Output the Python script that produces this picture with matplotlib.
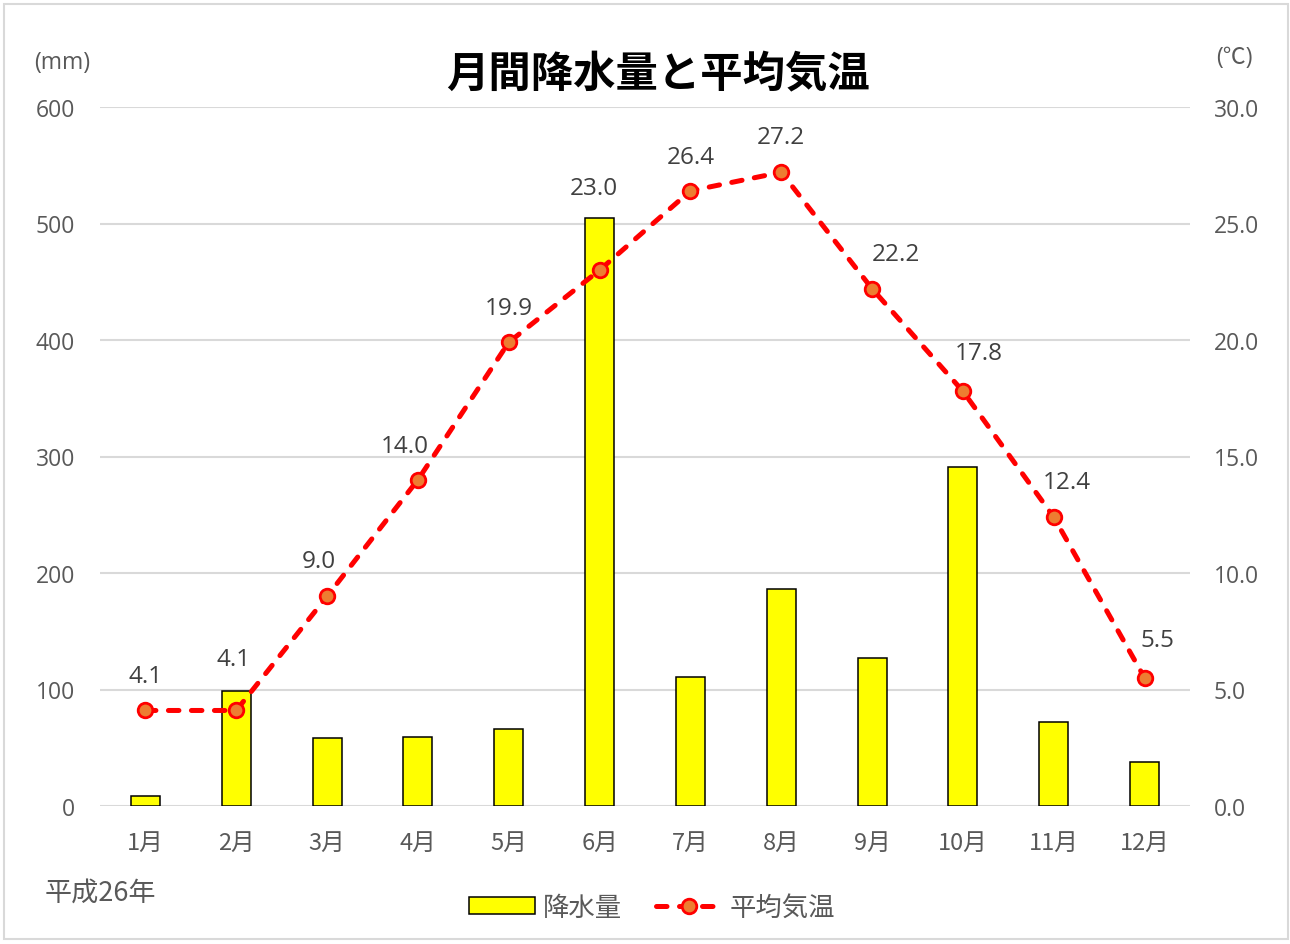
import numpy as np
import matplotlib.pyplot as plt
from matplotlib.lines import Line2D
from matplotlib.patches import Patch, Rectangle

plt.rcParams['font.family'] = ['Noto Sans CJK JP', 'DejaVu Sans']
NUM_FONT = ['Open Sans', 'Noto Sans CJK JP', 'DejaVu Sans']

# ==================== データ ====================
months = ['1月', '2月', '3月', '4月', '5月', '6月',
          '7月', '8月', '9月', '10月', '11月', '12月']
rain_mm = [9, 99, 58, 59, 66, 505, 111, 186, 127, 291, 72, 38]
temp_c = [4.1, 4.1, 9.0, 14.0, 19.9, 23.0, 26.4, 27.2, 22.2, 17.8, 12.4, 5.5]
left_ticks = [0, 100, 200, 300, 400, 500, 600]
right_ticks = [0.0, 5.0, 10.0, 15.0, 20.0, 25.0, 30.0]

# データラベルの位置調整 (px)
label_dx = [0, -3, -8, -13, 0, -6, 0, 0, 24, 16, 13, 13]
label_dy = [34, 51, 35, 34, 34, 82, 34, 35, 35, 38, 35, 38]

TICK_COLOR = '#595959'
LABEL_COLOR = '#404040'
GRID_COLOR = '#D9D9D9'
PX = 0.72  # 1px -> pt (dpi=100)

fig = plt.figure(figsize=(12.9, 9.45), dpi=100)
ax1 = fig.add_axes([100 / 1290, 1 - 807 / 945, 1090 / 1290, 699 / 945])
ax2 = ax1.twinx()

x = np.arange(len(months))

# 降水量 (棒)
ax1.bar(x, rain_mm, width=0.32, color='#FFFF00', edgecolor='black',
        linewidth=1.1, zorder=2)
ax1.set_ylim(0, 600)
ax1.set_xlim(-0.5, len(months) - 0.5)
ax1.set_yticks(left_ticks)
ax1.set_yticklabels([str(v) for v in left_ticks], family=NUM_FONT)
ax1.set_xticks(x)
ax1.set_xticklabels(months)
ax1.yaxis.grid(True, color=GRID_COLOR, linewidth=1.5)
ax1.set_axisbelow(True)

# 平均気温 (折れ線)
line_style = dict(color='#FF0000', linestyle=(0, (2.1, 2.5)), linewidth=3.6,
                  dash_capstyle='round', marker='o', markersize=10.5,
                  markerfacecolor='#ED7D31', markeredgecolor='#FF0000',
                  markeredgewidth=2)
ax2.plot(x, temp_c, zorder=3, **line_style)
ax2.set_ylim(0, 30)
ax2.set_yticks(right_ticks)
ax2.set_yticklabels([f'{v:.1f}' for v in right_ticks], family=NUM_FONT)

for xi, t, dx, dy in zip(x, temp_c, label_dx, label_dy):
    ax2.annotate(f'{t:.1f}', (xi, t), xytext=(dx * PX, dy * PX),
                 textcoords='offset points', ha='center', va='center',
                 fontsize=17.5, color=LABEL_COLOR, family=NUM_FONT)

for ax in (ax1, ax2):
    for s in ax.spines.values():
        s.set_visible(False)
    ax.tick_params(length=0, colors=TICK_COLOR, labelsize=16.5)
ax1.tick_params(axis='y', pad=18)
ax2.tick_params(axis='y', pad=17)
ax1.tick_params(axis='x', pad=18, labelsize=17)

# テキスト
fig.text(658 / 1290, 1 - 75 / 945, '月間降水量と平均気温', ha='center', va='center',
         fontsize=30.5, fontweight='bold', color='black')
fig.text(62 / 1290, 1 - 63 / 945, '(mm)', ha='center', va='center',
         fontsize=16.5, color=TICK_COLOR, family=NUM_FONT)
fig.text(1234 / 1290, 1 - 58 / 945, '(℃)', ha='center', va='center',
         fontsize=16.5, color=TICK_COLOR, family=NUM_FONT)
fig.text(45 / 1290, 1 - 893 / 945, '平成26年', ha='left', va='center',
         fontsize=19.5, color=TICK_COLOR)

# 凡例
handles = [
    Patch(facecolor='#FFFF00', edgecolor='black', linewidth=1.1),
    Line2D([], [], **line_style),
]
leg = fig.legend(handles, ['降水量', '平均気温'], loc='center',
                 bbox_to_anchor=(652 / 1290, 1 - 908 / 945), ncol=2,
                 frameon=False, fontsize=19, handlelength=2.5,
                 handleheight=0.6, columnspacing=1.3, handletextpad=0.3)
for txt in leg.get_texts():
    txt.set_color(TICK_COLOR)

# 外枠
fig.patches.append(Rectangle((4 / 1290, 5 / 945), 1284 / 1290, 935 / 945,
                             transform=fig.transFigure, fill=False,
                             edgecolor='#D9D9D9', linewidth=1.5))

fig.savefig('out.png', dpi=100)
